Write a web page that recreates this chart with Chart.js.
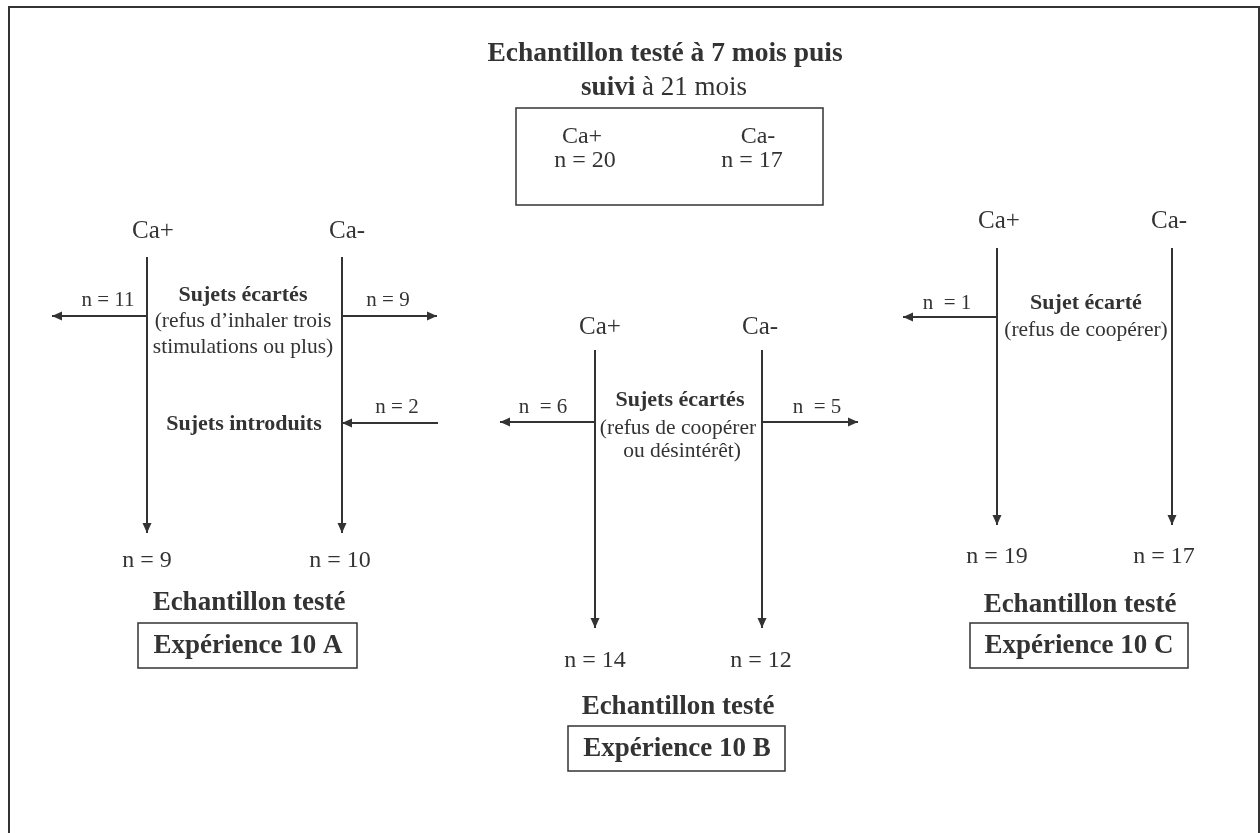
<!DOCTYPE html>
<html>
<head>
<meta charset="utf-8">
<script src="https://cdn.jsdelivr.net/npm/chart.js@4.4.1/dist/chart.umd.min.js"></script>
<style>
  html, body { margin: 0; padding: 0; background: #fff; }
  #wrap { width: 1260px; height: 833px; }
</style>
</head>
<body>
<div id="wrap"><canvas id="chart"></canvas></div>
<script>
const groups = ['Ca+', 'Ca-'];
const initialN = [20, 17];
const excludedA = [11, 9];
const addedA = [0, 2];
const finalA = [9, 10];
const excludedB = [6, 5];
const finalB = [14, 12];
const excludedC = [1, 0];
const finalC = [19, 17];
const experiments = ['Expérience 10 A', 'Expérience 10 B', 'Expérience 10 C'];
const reasonA = ['Sujets écartés', '(refus d’inhaler trois', 'stimulations ou plus)'];
const reasonB = ['Sujets écartés', '(refus de coopérer', 'ou désintérêt)'];
const reasonC = ['Sujet écarté', '(refus de coopérer)'];
const introducedA = 'Sujets introduits';
const sampleTitle = 'Echantillon testé';

const INK = '#333';
const SERIF = '"Liberation Serif", "Times New Roman", serif';

const datasets = [];
const texts = [];

function seg(x1, y1, x2, y2, arrow) {
  datasets.push({
    data: [{ x: x1, y: y1 }, { x: x2, y: y2 }],
    showLine: true, borderColor: INK, borderWidth: 2,
    pointRadius: 0, arrow: !!arrow, borderCapStyle: 'butt'
  });
}

function box(x1, y1, x2, y2) {
  datasets.push({
    data: [{ x: x1, y: y1 }, { x: x2, y: y1 }, { x: x2, y: y2 }, { x: x1, y: y2 }, { x: x1, y: y1 }],
    showLine: true, borderColor: INK, borderWidth: 1.5,
    pointRadius: 0, borderCapStyle: 'square', borderJoinStyle: 'miter'
  });
}

function txt(parts, x, y, size) {
  if (typeof parts === 'string') parts = [{ t: parts, b: false }];
  texts.push({ parts, x, y, size });
}
const bold = s => [{ t: s, b: true }];
const nLabel = (v, gap) => 'n ' + (gap ? ' ' : '') + '= ' + v;

// cadre extérieur
datasets.push({
  data: [{ x: 9, y: 900 }, { x: 9, y: 7 }, { x: 1259, y: 7 }, { x: 1259, y: 900 }],
  showLine: true, borderColor: INK, borderWidth: 2, pointRadius: 0, borderJoinStyle: 'miter'
});

// échantillon initial
txt(bold('Echantillon testé à 7 mois puis'), 665, 54, 27.5);
txt([{ t: 'suivi', b: true }, { t: ' à 21 mois', b: false }], 664, 88, 27);
box(516, 108, 823, 205);
[582, 758].forEach((x, i) => {
  txt(groups[i], x, 137, 24);
  txt(nLabel(initialN[i]), x + (i ? -6 : 3), 161, 24);
});

// Expérience 10 A
const colA = [147, 342];
colA.forEach((x, i) => {
  txt(groups[i], [153, 347][i], 231, 25);
  seg(x, 257, x, 533, true);
  txt(nLabel(finalA[i]), [147, 340][i], 561, 24);
  seg(x, 316, [52, 437][i], 316, true);
  txt(nLabel(excludedA[i]), [108, 388][i], 300, 21);
  if (addedA[i]) {
    seg(438, 423, x, 423, true);
    txt(nLabel(addedA[i]), 397, 407, 21);
  }
});
txt(bold(reasonA[0]), 243, 295, 22);
txt(reasonA[1], 243, 321, 21.5);
txt(reasonA[2], 243, 347, 21.5);
txt(bold(introducedA), 244, 424, 22);
txt(bold(sampleTitle), 249, 603, 27);
box(138, 623, 357, 668);
txt(bold(experiments[0]), 248, 646, 27);

// Expérience 10 B
const colB = [595, 762];
colB.forEach((x, i) => {
  txt(groups[i], [600, 760][i], 327, 25);
  seg(x, 350, x, 628, true);
  txt(nLabel(finalB[i]), [595, 761][i], 661, 24);
  seg(x, 422, [500, 858][i], 422, true);
  txt(nLabel(excludedB[i], true), [543, 817][i], 407, 21);
});
txt(bold(reasonB[0]), 680, 400, 22);
txt(reasonB[1], 678, 428, 21.5);
txt(reasonB[2], 682, 451, 21.5);
txt(bold(sampleTitle), 678, 707, 27);
box(568, 726, 785, 771);
txt(bold(experiments[1]), 677, 749, 27);

// Expérience 10 C
const colC = [997, 1172];
colC.forEach((x, i) => {
  txt(groups[i], [999, 1169][i], 221, 25);
  seg(x, 248, x, 525, true);
  txt(nLabel(finalC[i]), [997, 1164][i], 557, 24);
  if (excludedC[i]) {
    seg(x, 317, 903, 317, true);
    txt(nLabel(excludedC[i], true), 947, 303, 21);
  }
});
txt(bold(reasonC[0]), 1086, 303, 22);
txt(reasonC[1], 1086, 330, 21.5);
txt(bold(sampleTitle), 1080, 605, 27);
box(970, 623, 1188, 668);
txt(bold(experiments[2]), 1079, 646, 27);

const arrowHeads = {
  id: 'arrowHeads',
  afterDatasetsDraw(chart) {
    const ctx = chart.ctx;
    chart.data.datasets.forEach((ds, di) => {
      if (!ds.arrow) return;
      const pts = chart.getDatasetMeta(di).data;
      const a = pts[pts.length - 2], b = pts[pts.length - 1];
      const ang = Math.atan2(b.y - a.y, b.x - a.x);
      const len = 10, half = 4.5;
      ctx.save();
      ctx.translate(b.x, b.y);
      ctx.rotate(ang);
      ctx.fillStyle = INK;
      ctx.beginPath();
      ctx.moveTo(0, 0);
      ctx.lineTo(-len, -half);
      ctx.lineTo(-len, half);
      ctx.closePath();
      ctx.fill();
      ctx.restore();
    });
  }
};

const labels = {
  id: 'labels',
  afterDraw(chart) {
    const ctx = chart.ctx;
    const sx = chart.scales.x, sy = chart.scales.y;
    ctx.save();
    ctx.fillStyle = INK;
    ctx.textBaseline = 'middle';
    ctx.textAlign = 'left';
    texts.forEach(item => {
      const font = p => (p.b ? 'bold ' : '') + item.size + 'px ' + SERIF;
      let total = 0;
      item.parts.forEach(p => { ctx.font = font(p); total += ctx.measureText(p.t).width; });
      let x = sx.getPixelForValue(item.x) - total / 2;
      const y = sy.getPixelForValue(item.y);
      item.parts.forEach(p => {
        ctx.font = font(p);
        ctx.fillText(p.t, x, y);
        x += ctx.measureText(p.t).width;
      });
    });
    ctx.restore();
  }
};

new Chart(document.getElementById('chart'), {
  type: 'scatter',
  data: { datasets },
  options: {
    responsive: true,
    maintainAspectRatio: false,
    animation: false,
    layout: { padding: 0 },
    scales: {
      x: { type: 'linear', min: 0, max: 1260, display: false },
      y: { type: 'linear', min: 0, max: 833, reverse: true, display: false }
    },
    plugins: { legend: { display: false }, tooltip: { enabled: false } }
  },
  plugins: [arrowHeads, labels]
});
</script>
</body>
</html>
